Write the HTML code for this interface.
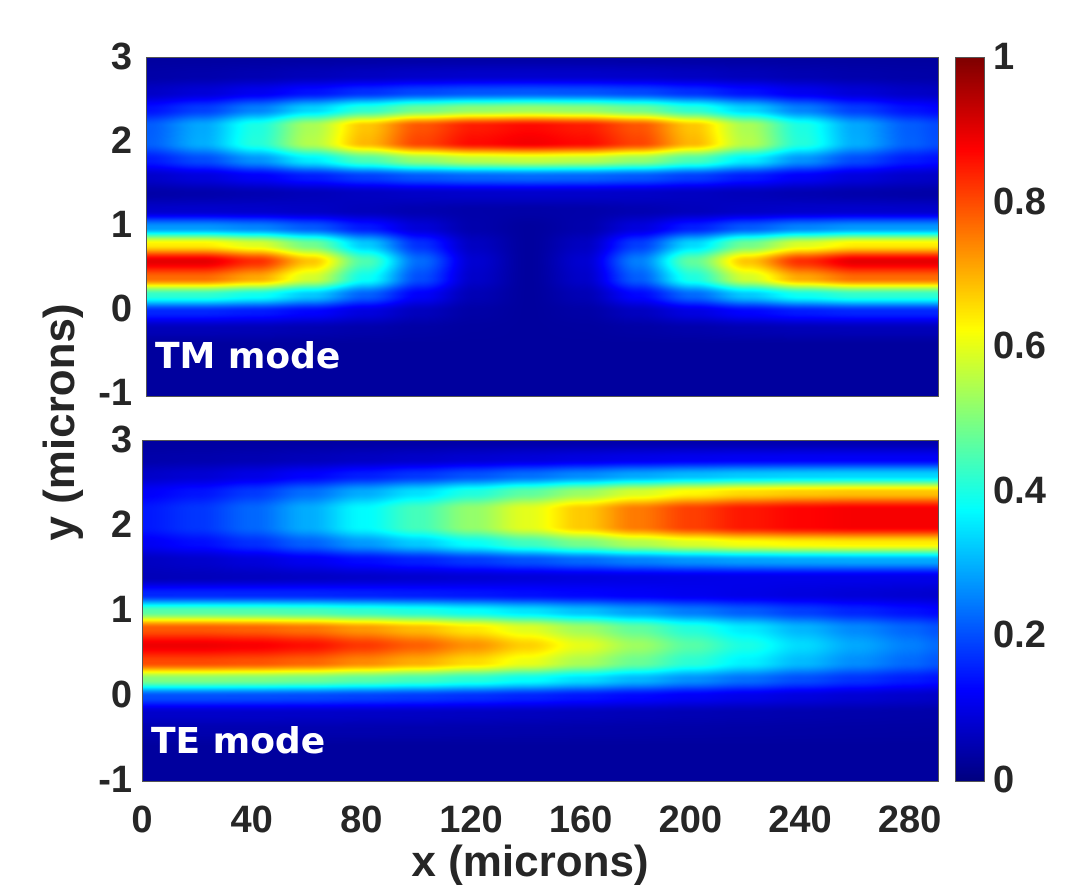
<!DOCTYPE html>
<html><head><meta charset="utf-8"><style>
body{margin:0;background:#fff;width:1080px;height:887px;overflow:hidden;position:relative;font-family:"Liberation Sans",Arial,sans-serif}
.t{position:absolute;font-weight:bold;color:#262626;font-size:38px;line-height:38px}
.yt{width:70px;text-align:right;left:62px}
.xt{width:90px;text-align:center;top:801px}
.ct{left:993px}
canvas{position:absolute;border:1px solid #555;box-sizing:border-box}
.lab{position:absolute;color:#fff;font-weight:bold;font-size:36px;font-family:"DejaVu Sans","Liberation Sans",sans-serif}
</style></head><body>
<canvas id="p1" style="left:146px;top:57px" width="791" height="338"></canvas>
<canvas id="p2" style="left:142px;top:440px" width="795" height="340"></canvas>
<canvas id="cb" style="left:955px;top:57px" width="28" height="723"></canvas>
<div class="lab" style="left:155px;top:336px">TM mode</div>
<div class="lab" style="left:151px;top:721px">TE mode</div>
<div id="ticks"></div>
<div class="t" style="left:0;width:1080px;text-align:center;top:840px;font-size:44px;line-height:44px"><span style="position:relative;left:-10px">x (microns)</span></div>
<div class="t" style="left:-70px;top:400px;width:260px;text-align:center;font-size:44px;line-height:44px;transform:rotate(-90deg)">y (microns)</div>
<script>
const xKnots=[0,20,40,60,80,100,120,140,160,180,200,220,240,260,280,290];
const yKnots=[3,2.8,2.6,2.4,2.2,2.0,1.8,1.6,1.4,1.2,1.0,0.8,0.6,0.4,0.2,0,-0.2,-0.4,-0.6,-0.8,-1];
const tmUpperAmp=[0.2,0.28,0.4,0.55,0.7,0.82,0.88,0.9,0.88,0.82,0.7,0.55,0.4,0.28,0.2,0.18];
const tmLowerAmp=[0.87,0.87,0.8,0.65,0.42,0.2,0.05,0.0,0.05,0.22,0.44,0.65,0.8,0.87,0.87,0.87];
const tmUpperProf=[0.01,0.05,0.2,0.55,0.93,0.95,0.6,0.22,0.05,0.01,0,0,0,0,0,0,0,0,0,0,0];
const tmLowerProf=[0,0,0,0,0,0,0,0,0,0.05,0.28,0.7,1.0,0.85,0.45,0.15,0.03,0,0,0,0];
const teUpperAmp=[0.12,0.15,0.2,0.27,0.35,0.42,0.5,0.58,0.66,0.74,0.8,0.84,0.86,0.87,0.87,0.87];
const teLowerAmp=[0.86,0.86,0.85,0.83,0.79,0.75,0.7,0.64,0.57,0.5,0.43,0.37,0.31,0.26,0.22,0.2];
const teUpperProf=[0.02,0.1,0.35,0.75,0.98,0.98,0.7,0.3,0.08,0.02,0,0,0,0,0,0,0,0,0,0,0];
const teLowerProf=[0,0,0,0,0,0,0,0,0.02,0.15,0.5,0.88,1.0,0.9,0.55,0.2,0.05,0.02,0,0,0];
const baseLevel=0.03;
const yTicks=["3","2","1","0","-1"];
const xTicks=["0","40","80","120","160","200","240","280"];
const cTicks=["1","0.8","0.6","0.4","0.2","0"];

function interp(kn,vals,v){
  for(let i=0;i<kn.length-1;i++){
    const a=kn[i],b=kn[i+1];
    if((v-a)*(v-b)<=0){const t=(v-a)/(b-a);const s=t*t*(3-2*t);return vals[i]+(vals[i+1]-vals[i])*s;}
  }
  return vals[v<kn[0]===(kn[0]<kn[1])?0:vals.length-1];
}
function jet(v){
  const c=x=>Math.max(0,Math.min(1,x));
  return [c(1.5-Math.abs(4*v-3))*255,c(1.5-Math.abs(4*v-2))*255,c(1.5-Math.abs(4*v-1))*255];
}
function draw(id,uA,lA,uP,lP){
  const cv=document.getElementById(id),ctx=cv.getContext('2d'),W=cv.width,H=cv.height;
  const img=ctx.createImageData(W,H);
  const xs=x=>x/W*290, ys=y=>3-y/H*4;
  const rowU=[],rowL=[];
  for(let y=0;y<H;y++){rowU.push(interp(yKnots,uP,ys(y)));rowL.push(interp(yKnots,lP,ys(y)));}
  for(let x=0;x<W;x++){
    const au=interp(xKnots,uA,xs(x)),al=interp(xKnots,lA,xs(x));
    for(let y=0;y<H;y++){
      const v=Math.min(1,baseLevel+au*rowU[y]+al*rowL[y]);
      const c=jet(v),k=(y*W+x)*4;
      img.data[k]=c[0];img.data[k+1]=c[1];img.data[k+2]=c[2];img.data[k+3]=255;
    }
  }
  ctx.putImageData(img,0,0);
}
draw('p1',tmUpperAmp,tmLowerAmp,tmUpperProf,tmLowerProf);
draw('p2',teUpperAmp,teLowerAmp,teUpperProf,teLowerProf);
(function(){
  const cv=document.getElementById('cb'),ctx=cv.getContext('2d');
  for(let y=0;y<cv.height;y++){const c=jet(1-y/cv.height);ctx.fillStyle=`rgb(${c[0]|0},${c[1]|0},${c[2]|0})`;ctx.fillRect(0,y,cv.width,1);}
})();
const T=document.getElementById('ticks');
function add(cls,txt,style,name){
  const d=document.createElement('div');d.className='t '+cls;d.textContent=txt;d.style.cssText=style;
  
  
  T.appendChild(d);
}
yTicks.forEach((t,i)=>{
  add('yt',t,`top:${57+i*84-19}px`,'y-tick-top');
  add('yt',t,`top:${440+i*85-19}px`,'y-tick-bottom');
});
xTicks.forEach((t,i)=>{
  add('xt',t,`left:${142+Number(t)*795/290-45}px`,'x-tick');
});
cTicks.forEach((t,i)=>{
  add('ct',t,`top:${57+(1-Number(t))*723-19}px`,'colorbar-tick');
});
</script>
</body></html>
